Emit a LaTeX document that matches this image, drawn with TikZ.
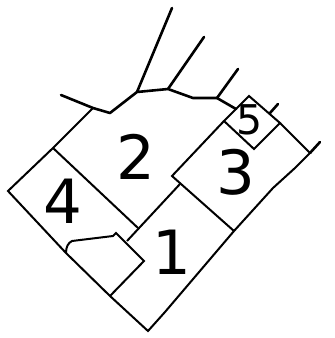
\documentclass[tikz,border=0pt]{standalone}
\usepackage{fontspec}
\setmainfont{DejaVu Sans}
\tikzset{
  wall/.style={draw=black,line width=2pt,line join=miter},
  edge/.style={draw=black,line width=2.6pt,line cap=round,line join=round},
  big/.style={inner sep=0pt,font=\fontsize{61}{61}\selectfont},
  small/.style={inner sep=0pt,font=\fontsize{41}{41}\selectfont}
}
\begin{document}
\begin{tikzpicture}[x=1pt,y=-1pt]
\useasboundingbox (0,0) rectangle (335,338);
% outline of the plot
\draw[wall] (93,108) -- (53,148) -- (8,191) -- (66,253) -- (110,296) -- (148,331) -- (165,312) -- (234,231) -- (273,188) -- (295,168) -- (310,153) -- (280,123);
% upper boundary and branches
\draw[edge] (61,95) -- (93,108) -- (110,113) -- (137,92) -- (168,89) -- (193,98) -- (217,98) -- (236,109);
\draw[edge] (137,92) -- (172,8);
\draw[edge] (168,89) -- (204,37);
\draw[edge] (217,98) -- (238,69);
\draw[edge] (270,113) -- (278,104);
\draw[edge] (310,153) -- (320,142);
% diamond 5
\draw[wall] (249,96) -- (280,123) -- (254,149) -- (224,121) -- cycle;
% dividers
\draw[wall] (53,148) -- (138,228);
\draw[wall] (224,121) -- (172,176) -- (234,231);
\draw[wall] (180,184) -- (127,241);
% notch
\draw[wall] (66,253) .. controls (66,247) and (68,243) .. (72,241) -- (113,236) -- (116,233) -- (144,261) -- (110,296);
% labels
\node[big] (n2) at (136,157) {2};
\node[big] (n3) at (236,172) {3};
\node[big] (n4) at (63,201) {4};
\node[big] (n1) at (172,252) {1};
\node[small] (n5) at (250,120) {5};
\end{tikzpicture}
\end{document}
